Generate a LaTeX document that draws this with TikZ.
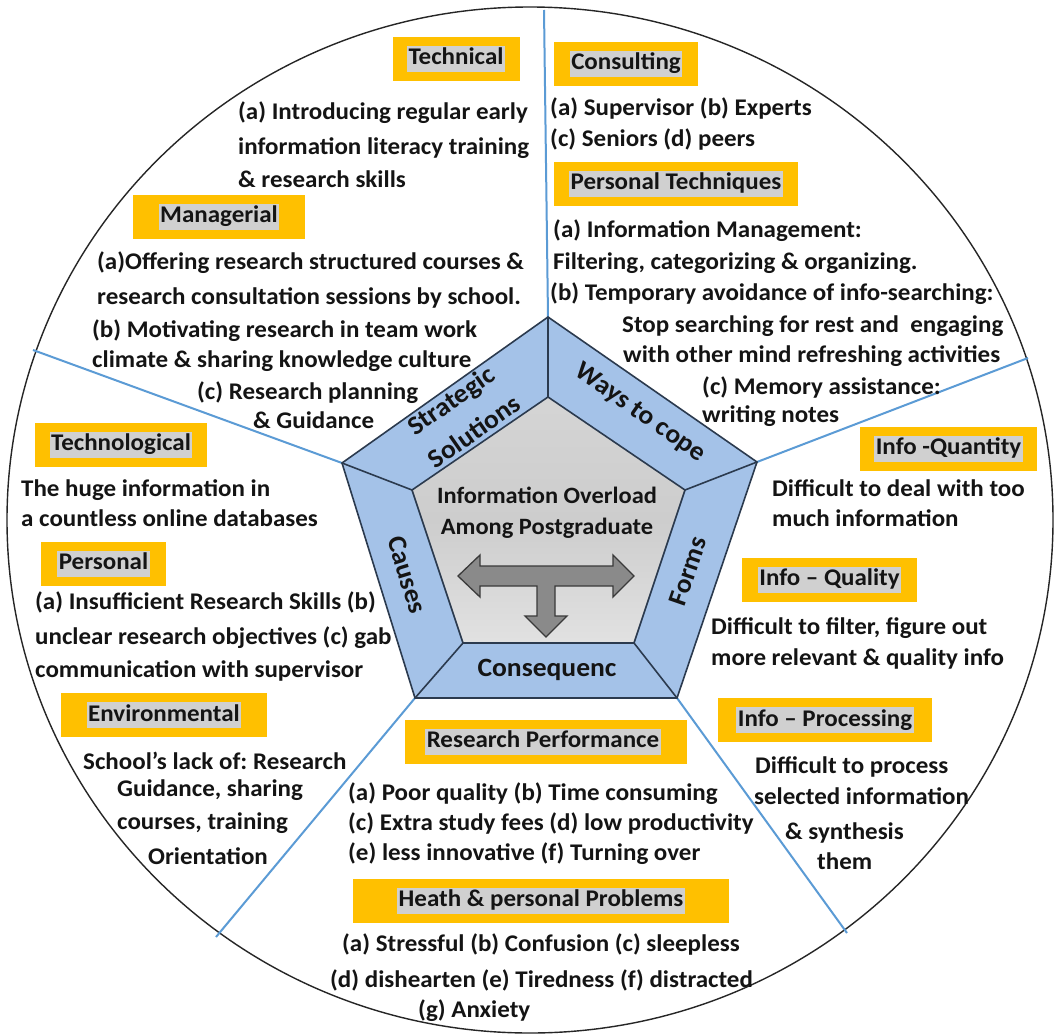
\documentclass[tikz,border=0pt]{standalone}
\usepackage{fontspec}
\setmainfont{Carlito}[FakeStretch=1.045]
\frenchspacing
\definecolor{orng}{HTML}{FFC000}
\definecolor{hlg}{HTML}{D0D0D0}
\definecolor{band}{HTML}{A4C2E8}
\definecolor{pline}{HTML}{2B3A4E}
\definecolor{core}{HTML}{CDCDCD}
\definecolor{arrf}{HTML}{8A8A8A}
\definecolor{arrd}{HTML}{3A3A3A}
\definecolor{divb}{HTML}{5B9BD5}
\definecolor{txt}{HTML}{141414}
\tikzset{
  body/.style={anchor=west, inner sep=0pt, text height=15bp, text depth=0bp, text=txt,
    font=\bfseries\fontsize{24}{28}\selectfont},
  hdrbox/.style={fill=orng, draw=none, inner sep=0pt, minimum height=44bp},
  hdrtxt/.style={fill=hlg, inner xsep=1.5bp, inner ysep=0pt, text height=19bp, text depth=7bp, text=txt,
    font=\bfseries\fontsize{24}{28}\selectfont},
  lbl/.style={inner sep=0pt, text=txt, align=center, font=\bfseries\fontsize{26.5}{33}\selectfont},
  divider/.style={draw=divb, line width=2bp},
  pent/.style={draw=pline, line width=1.6bp, line join=miter},
}
\begin{document}
\begin{tikzpicture}[x=1bp,y=-1bp]
\useasboundingbox (0,0) rectangle (1055,1036);
\fill[white] (0,0) rectangle (1055,1036);
% outer circle
\draw[draw=black!85, line width=1.4bp] (530,520) ellipse [x radius=523, y radius=513];
% pentagon vertices
\coordinate (O1) at (548,317);
\coordinate (O2) at (757,462);
\coordinate (O3) at (677,698);
\coordinate (O4) at (415,698);
\coordinate (O5) at (342,463);
\coordinate (I1) at (548,397);
\coordinate (I2) at (685,490);
\coordinate (I3) at (634,643);
\coordinate (I4) at (463,643);
\coordinate (I5) at (412,490);
% divider ends
\coordinate (E1) at (544,10);
\coordinate (E2) at (1028,358);
\coordinate (E3) at (847,933);
\coordinate (E4) at (216,937);
\coordinate (E5) at (33,350);
\draw[divider] (O1) -- (E1);
\draw[divider] (O2) -- (E2);
\draw[divider] (O3) -- (E3);
\draw[divider] (O4) -- (E4);
\draw[divider] (O5) -- (E5);
% pentagon
\draw[pent, fill=band] (O1) -- (O2) -- (O3) -- (O4) -- (O5) -- cycle;
\draw[pent, top color=core!85, bottom color=core!110!black, middle color=core] (I1) -- (I2) -- (I3) -- (I4) -- (I5) -- cycle;
\draw[pent] (O1) -- (I1) (O2) -- (I2) (O3) -- (I3) (O4) -- (I4) (O5) -- (I5);
% T arrow
\draw[fill=arrf, draw=arrd, line width=1.3bp, line join=miter]
  (458,576) -- (480,555) -- (480,566) -- (613,566) -- (613,555) -- (634,576) -- (613,597) -- (613,586)
  -- (555,586) -- (555,616) -- (567,616) -- (546,637) -- (525,616) -- (537,616) -- (537,586)
  -- (480,586) -- (480,597) -- cycle;
% center text
\node[lbl, font=\bfseries\fontsize{23.5}{33}\selectfont] (ctr1) at (547,495) {Information Overload};
\node[lbl, font=\bfseries\fontsize{23.5}{33}\selectfont] (ctr2) at (547,528) {Among Postgraduate};
% band labels
\node[lbl, rotate=35] (lstrat1) at (452,402) {Strategic};
\node[lbl, rotate=35] (lstrat2) at (474,431) {Solutions};
\node[lbl, rotate=-35] (lways) at (640,413) {Ways to cope};
\node[lbl, rotate=71] (lforms) at (688,571) {Forms};
\node[lbl, rotate=-73] (lcauses) at (407,575) {Causes};
\node[lbl] (lcons) at (547,670) {Consequenc};
% headers
\node[hdrbox, minimum width=127bp] (bTech) at (456,58.5) {};
\node[hdrtxt] (hTech) at (bTech) {Technical};
\node[hdrbox, minimum width=172bp] (bMan) at (219,216.5) {};
\node[hdrtxt] (hMan) at (bMan) {Managerial};
\node[hdrbox, minimum width=172bp] (bTecg) at (121,444.5) {};
\node[hdrtxt] (hTecg) at (bTecg) {Technological};
\node[hdrbox, minimum width=125bp] (bPers) at (103.5,563.5) {};
\node[hdrtxt] (hPers) at (bPers) {Personal};
\node[hdrbox, minimum width=206bp] (bEnv) at (164,715) {};
\node[hdrtxt] (hEnv) at (bEnv) {Environmental};
\node[hdrbox, minimum width=282bp] (bRP) at (546,741.5) {};
\node[hdrtxt] (hRP) at (543,741.5) {Research Performance};
\node[hdrbox, minimum width=376bp] (bHP) at (541,900.5) {};
\node[hdrtxt] (hHP) at (bHP) {Heath \& personal Problems};
\node[hdrbox, minimum width=144bp] (bCons) at (626,63.5) {};
\node[hdrtxt] (hCons) at (bCons) {Consulting};
\node[hdrbox, minimum width=244bp] (bPT) at (676,183.5) {};
\node[hdrtxt] (hPT) at (bPT) {Personal Techniques};
\node[hdrbox, minimum width=177bp] (bIQn) at (948.5,448.5) {};
\node[hdrtxt] (hIQn) at (bIQn) {Info -Quantity};
\node[hdrbox, minimum width=175bp] (bIQl) at (829.5,579.5) {};
\node[hdrtxt] (hIQl) at (bIQl) {Info -- Quality};
\node[hdrbox, minimum width=214bp] (bIP) at (825,720) {};
\node[hdrtxt] (hIP) at (bIP) {Info -- Processing};
% Technical body
\node[body] (tc1) at (238,112) {(a) Introducing regular early};
\node[body] (tc2) at (238,147) {information literacy training};
\node[body] (tc3) at (238,180) {\& research skills};
% Managerial body
\node[body] (mg1) at (97,262) {(a)Offering research structured courses \&};
\node[body] (mg2) at (97,297) {research consultation sessions by school.};
\node[body] (mg3) at (92,330) {(b) Motivating research in team work};
\node[body] (mg4) at (92,360) {climate \& sharing knowledge culture};
\node[body] (mg5) at (197,392) {(c) Research planning};
\node[body] (mg6) at (253,421) {\& Guidance};
% Technological body
\node[body] (tg1) at (21,489) {The huge information in};
\node[body] (tg2) at (21,519) {a countless online databases};
% Personal body
\node[body] (ps1) at (35,602) {(a) Insufficient Research Skills (b)};
\node[body] (ps2) at (35,637) {unclear research objectives (c) gab};
\node[body] (ps3) at (35,670) {communication with supervisor};
% Environmental body
\node[body] (ev1) at (83,762) {School’s lack of: Research};
\node[body] (ev2) at (117,789) {Guidance, sharing};
\node[body] (ev3) at (117,822) {courses, training};
\node[body] (ev4) at (148,857) {Orientation};
% Research performance body
\node[body] (rp1) at (348,793) {(a) Poor quality (b) Time consuming};
\node[body] (rp2) at (348,823) {(c) Extra study fees (d) low productivity};
\node[body] (rp3) at (348,853) {(e) less innovative (f) Turning over};
% Health body
\node[body] (hp1) at (342,944) {(a) Stressful (b) Confusion (c) sleepless};
\node[body] (hp2) at (330,980) {(d) dishearten (e) Tiredness (f) distracted};
\node[body] (hp3) at (418,1010) {(g) Anxiety};
% Consulting body
\node[body] (cs1) at (550,108) {(a) Supervisor (b) Experts};
\node[body] (cs2) at (550,139) {(c) Seniors (d) peers};
% Personal techniques body
\node[body] (pt1) at (553,230) {(a) Information Management:};
\node[body] (pt2) at (553,262) {Filtering, categorizing \& organizing.};
\node[body] (pt3) at (550,293) {(b) Temporary avoidance of info-searching:};
\node[body] (pt4) at (622,325) {Stop searching for rest and\ \ engaging};
\node[body] (pt5) at (623,355) {with other mind refreshing activities};
\node[body] (pt6) at (702,387) {(c) Memory assistance:};
\node[body] (pt7) at (702,415) {writing notes};
% Info quantity body
\node[body] (iq1) at (772,489) {Difficult to deal with too};
\node[body] (iq2) at (772,519) {much information};
% Info quality body
\node[body] (il1) at (711,627) {Difficult to filter, figure out};
\node[body] (il2) at (711,658) {more relevant \& quality info};
% Info processing body
\node[body] (ip1) at (755,766) {Difficult to process};
\node[body] (ip2) at (754,797) {selected information};
\node[body] (ip3) at (785,832) {\& synthesis};
\node[body] (ip4) at (817,862) {them};
\end{tikzpicture}
\end{document}
